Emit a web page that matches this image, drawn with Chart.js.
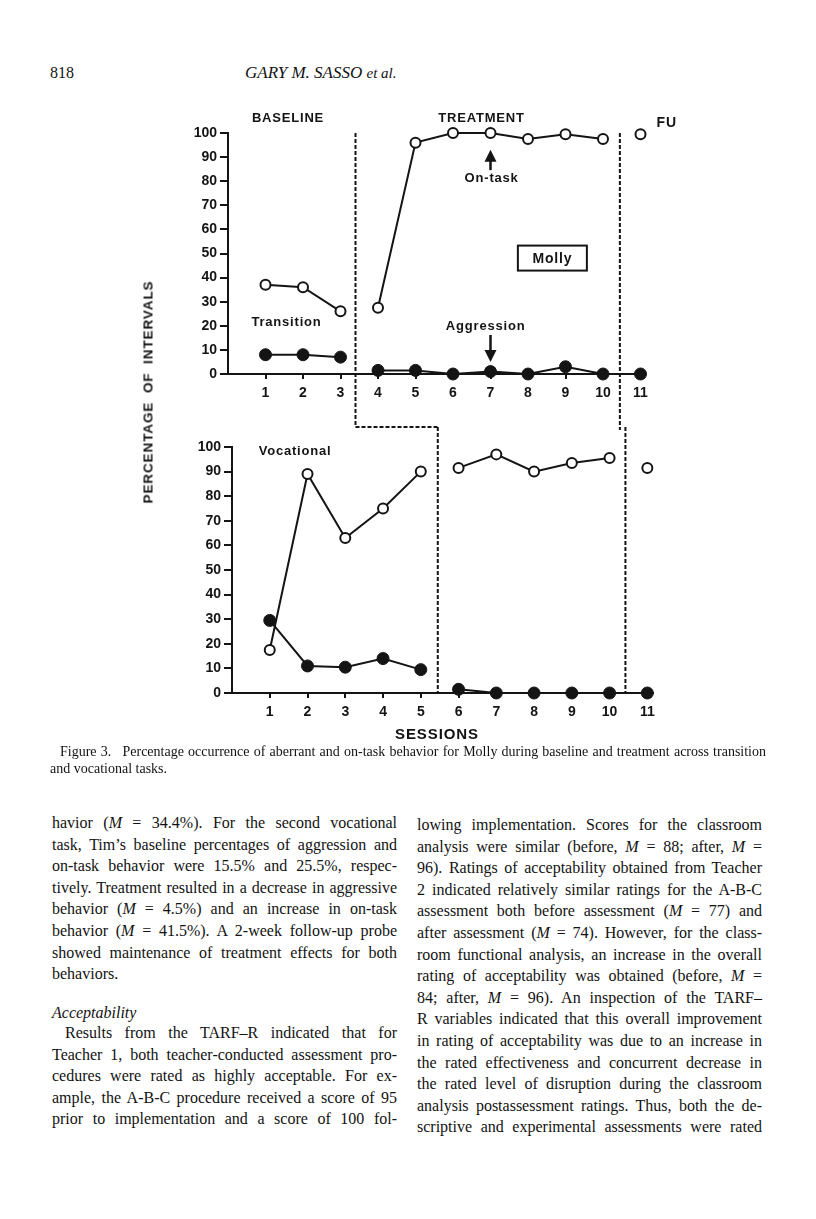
<!DOCTYPE html>
<html>
<head>
<meta charset="utf-8">
<script src="https://cdn.jsdelivr.net/npm/chart.js@4.4.1/dist/chart.umd.min.js"></script>
<style>
  body { margin: 0; background: #fff; }
  #page { position: relative; width: 816px; height: 1219px; overflow: hidden; background: #fff; color: #121212; font-family: "Liberation Serif", "Times New Roman", serif; }
  canvas { position: absolute; left: 0; top: 0; }
  .abs { position: absolute; white-space: nowrap; }
  .col { position: absolute; width: 345px; font-size: 16px; line-height: 21.6px; }
  .col div { white-space: nowrap; text-align: justify; text-align-last: justify; }
  .col div.end { text-align-last: left; }
  .col div.ind { padding-left: 13px; }
  .sans { font-family: "Liberation Sans", Arial, sans-serif; font-weight: bold; }
</style>
</head>
<body>
<div id="page">
  <div class="abs" style="left:50px; top:64px; font-size:16px;">818</div>
  <div class="abs" style="left:245px; top:63px; font-size:17px; font-style:italic;">GARY M. SASSO <span style="font-size:15px">et al.</span></div>

  <canvas id="topChart" width="816" height="760"></canvas>
  <canvas id="bottomChart" width="816" height="760"></canvas>

  <div class="abs sans" style="left:148px; top:392px; font-size:13.5px; letter-spacing:0.9px; word-spacing:4px; transform:translate(-50%,-50%) rotate(-90deg);">PERCENTAGE OF INTERVALS</div>
  <div class="abs sans" style="left:437px; top:733px; font-size:15px; letter-spacing:0.9px; transform:translate(-50%,-50%);">SESSIONS</div>

  <div class="abs" style="left:50px; top:743px; width:716px; font-size:14px; line-height:17px;">
    <div style="padding-left:10px; text-align:justify; text-align-last:justify; white-space:nowrap;">Figure 3.&ensp; Percentage occurrence of aberrant and on-task behavior for Molly during baseline and treatment across transition</div>
    <div>and vocational tasks.</div>
  </div>

  <div class="col" style="left:52px; top:812px;">
    <div>havior (<i>M</i> = 34.4%). For the second vocational</div>
    <div>task, Tim’s baseline percentages of aggression and</div>
    <div>on-task behavior were 15.5% and 25.5%, respec-</div>
    <div>tively. Treatment resulted in a decrease in aggressive</div>
    <div>behavior (<i>M</i> = 4.5%) and an increase in on-task</div>
    <div>behavior (<i>M</i> = 41.5%). A 2-week follow-up probe</div>
    <div>showed maintenance of treatment effects for both</div>
    <div class="end">behaviors.</div>
  </div>
  <div class="col" style="left:52px; top:1002px;">
    <div class="end"><i>Acceptability</i></div>
  </div>
  <div class="col" style="left:52px; top:1022px;">
    <div class="ind">Results from the TARF–R indicated that for</div>
    <div>Teacher 1, both teacher-conducted assessment pro-</div>
    <div>cedures were rated as highly acceptable. For ex-</div>
    <div>ample, the A-B-C procedure received a score of 95</div>
    <div>prior to implementation and a score of 100 fol-</div>
  </div>
  <div class="col" style="left:417px; top:814px;">
    <div>lowing implementation. Scores for the classroom</div>
    <div>analysis were similar (before, <i>M</i> = 88; after, <i>M</i> =</div>
    <div>96). Ratings of acceptability obtained from Teacher</div>
    <div>2 indicated relatively similar ratings for the A-B-C</div>
    <div>assessment both before assessment (<i>M</i> = 77) and</div>
    <div>after assessment (<i>M</i> = 74). However, for the class-</div>
    <div>room functional analysis, an increase in the overall</div>
    <div>rating of acceptability was obtained (before, <i>M</i> =</div>
    <div>84; after, <i>M</i> = 96). An inspection of the TARF–</div>
    <div>R variables indicated that this overall improvement</div>
    <div>in rating of acceptability was due to an increase in</div>
    <div>the rated effectiveness and concurrent decrease in</div>
    <div>the rated level of disruption during the classroom</div>
    <div>analysis postassessment ratings. Thus, both the de-</div>
    <div>scriptive and experimental assessments were rated</div>
  </div>
</div>

<script>
// Sessions and axis ticks
const sessions = [1, 2, 3, 4, 5, 6, 7, 8, 9, 10, 11];
const percentTicks = [0, 10, 20, 30, 40, 50, 60, 70, 80, 90, 100];

// Transition task (top panel)
const transBaseSessions = [1, 2, 3];
const transTreatSessions = [4, 5, 6, 7, 8, 9, 10];
const followUpSessions = [11];
const transOnTaskBase = [37, 36, 26];
const transOnTaskTreat = [27.5, 96, 100, 100, 97.5, 99.5, 97.5];
const transOnTaskFU = [99.5];
const transAggBase = [8, 8, 7];
const transAggTreat = [1.5, 1.5, 0, 1, 0, 3, 0];
const transAggFU = [0];

// Vocational task (bottom panel)
const vocBaseSessions = [1, 2, 3, 4, 5];
const vocTreatSessions = [6, 7, 8, 9, 10];
const vocOnTaskBase = [17.5, 89, 63, 75, 90];
const vocOnTaskTreat = [91.5, 97, 90, 93.5, 95.5];
const vocOnTaskFU = [91.5];
const vocAggBase = [29.5, 11, 10.5, 14, 9.5];
const vocAggTreat = [1.5, 0, 0, 0, 0];
const vocAggFU = [0];

const INK = '#141414';
const SANS = '"Liberation Sans", Arial, sans-serif';

const pts = (xs, ys) => xs.map((x, i) => ({ x, y: ys[i] }));

function openSeries(xs, ys) {
  return {
    data: pts(xs, ys), borderColor: INK, borderWidth: 2, tension: 0, clip: false,
    pointRadius: 5, pointBorderWidth: 2, pointBackgroundColor: '#fff', pointBorderColor: INK
  };
}

function filledSeries(xs, ys) {
  return {
    data: pts(xs, ys), borderColor: INK, borderWidth: 2, tension: 0, clip: false,
    pointRadius: 6, pointBorderWidth: 1, pointBackgroundColor: INK, pointBorderColor: INK
  };
}

function scalesFor(xMax) {
  const tickFont = { family: SANS, size: 14, weight: 'bold' };
  return {
    x: {
      type: 'linear', min: 0, max: xMax,
      afterBuildTicks: s => { s.ticks = sessions.map(v => ({ value: v })); },
      afterFit: s => { s.height = 30; },
      grid: { drawOnChartArea: false, tickLength: 5, color: INK, lineWidth: 2 },
      border: { color: INK, width: 2 },
      ticks: { color: INK, font: tickFont, padding: 6, autoSkip: false, maxRotation: 0 }
    },
    y: {
      min: 0, max: 100,
      afterBuildTicks: s => { s.ticks = percentTicks.map(v => ({ value: v })); },
      afterFit: s => { s.width = 40; },
      grid: { drawOnChartArea: false, tickLength: 8, color: INK, lineWidth: 2 },
      border: { color: INK, width: 2 },
      ticks: { color: INK, font: tickFont, padding: 3 }
    }
  };
}

function drawArrow(ctx, x, y1, y2) {
  // shaft from y1 to the tip at y2
  const dir = y2 > y1 ? 1 : -1;
  ctx.lineWidth = 2.5;
  ctx.setLineDash([]);
  ctx.beginPath();
  ctx.moveTo(x, y1);
  ctx.lineTo(x, y2 - dir * 6);
  ctx.stroke();
  ctx.beginPath();
  ctx.moveTo(x, y2);
  ctx.lineTo(x - 6, y2 - dir * 12);
  ctx.lineTo(x + 6, y2 - dir * 12);
  ctx.closePath();
  ctx.fill();
}

// phase lines, labels, arrows and the name box
const notesPlugin = {
  id: 'notes',
  afterDraw(chart, args, opts) {
    const { ctx, chartArea } = chart;
    const xs = chart.scales.x, ys = chart.scales.y;
    ctx.save();
    ctx.fillStyle = INK;
    ctx.strokeStyle = INK;

    ctx.lineWidth = 2;
    ctx.setLineDash([4, 2]);
    (opts.phases || []).forEach(p => {
      const px = xs.getPixelForValue(p.at);
      const top = p.fromValue !== undefined ? ys.getPixelForValue(p.fromValue) : chartArea.top - p.above;
      const bottom = p.drop !== undefined ? chartArea.bottom + p.drop : chartArea.bottom;
      ctx.beginPath();
      ctx.moveTo(px, top);
      ctx.lineTo(px, bottom);
      ctx.stroke();
      if (p.stepFrom) {
        const other = Chart.getChart(p.stepFrom.chart);
        const ox = other.scales.x.getPixelForValue(p.stepFrom.at);
        ctx.beginPath();
        ctx.moveTo(ox, top);
        ctx.lineTo(px, top);
        ctx.stroke();
      }
    });

    ctx.textAlign = 'center';
    ctx.textBaseline = 'middle';
    ctx.letterSpacing = '0.8px';
    (opts.labels || []).forEach(l => {
      ctx.font = `bold ${l.size || 13}px ${SANS}`;
      ctx.fillText(l.text, xs.getPixelForValue(l.x), ys.getPixelForValue(l.y));
    });

    (opts.arrows || []).forEach(a => {
      drawArrow(ctx, xs.getPixelForValue(a.x), ys.getPixelForValue(a.from), ys.getPixelForValue(a.to));
    });

    if (opts.box) {
      const b = opts.box;
      const cx = xs.getPixelForValue(b.x), cy = ys.getPixelForValue(b.y);
      ctx.setLineDash([]);
      ctx.lineWidth = 2;
      ctx.strokeRect(cx - b.w / 2, cy - b.h / 2, b.w, b.h);
      ctx.font = `bold 14px ${SANS}`;
      ctx.fillText(b.text, cx, cy + 1);
    }
    ctx.restore();
  }
};

function makeChart(id, datasets, xMax, padding, notes) {
  return new Chart(document.getElementById(id), {
    type: 'line',
    data: { datasets },
    options: {
      responsive: false,
      animation: false,
      layout: { padding },
      scales: scalesFor(xMax),
      plugins: { legend: { display: false }, tooltip: { enabled: false }, notes }
    },
    plugins: [notesPlugin]
  });
}

Chart.defaults.font.family = SANS;

makeChart('topChart', [
  openSeries(transBaseSessions, transOnTaskBase),
  openSeries(transTreatSessions, transOnTaskTreat),
  openSeries(followUpSessions, transOnTaskFU),
  filledSeries(transBaseSessions, transAggBase),
  filledSeries(transTreatSessions, transAggTreat),
  filledSeries(followUpSessions, transAggFU)
], 11.12, { left: 188, right: 171, top: 133, bottom: 356 }, {
  phases: [
    { at: 3.4, fromValue: 100, drop: 53 },
    { at: 10.45, fromValue: 100, drop: 56 }
  ],
  labels: [
    { text: 'BASELINE', x: 1.6, y: 106.2 },
    { text: 'TREATMENT', x: 6.76, y: 106.2 },
    { text: 'FU', x: 11.7, y: 104, size: 14 },
    { text: 'On-task', x: 7.03, y: 81.3 },
    { text: 'Transition', x: 1.56, y: 21.2 },
    { text: 'Aggression', x: 6.87, y: 19.9 }
  ],
  arrows: [
    { x: 7, from: 84.6, to: 93 },
    { x: 7, from: 16.2, to: 5 }
  ],
  box: { text: 'Molly', x: 8.65, y: 48.1, w: 69, h: 25 }
});

makeChart('bottomChart', [
  openSeries(vocBaseSessions, vocOnTaskBase),
  openSeries(vocTreatSessions, vocOnTaskTreat),
  openSeries(followUpSessions, vocOnTaskFU),
  filledSeries(vocBaseSessions, vocAggBase),
  filledSeries(vocTreatSessions, vocAggTreat),
  filledSeries(followUpSessions, vocAggFU)
], 11.15, { left: 192, right: 163, top: 447, bottom: 37 }, {
  phases: [
    { at: 5.45, above: 20, stepFrom: { chart: 'topChart', at: 3.4 } },
    { at: 10.42, above: 20 }
  ],
  labels: [
    { text: 'Vocational', x: 1.67, y: 98 }
  ]
});
</script>
</body>
</html>
